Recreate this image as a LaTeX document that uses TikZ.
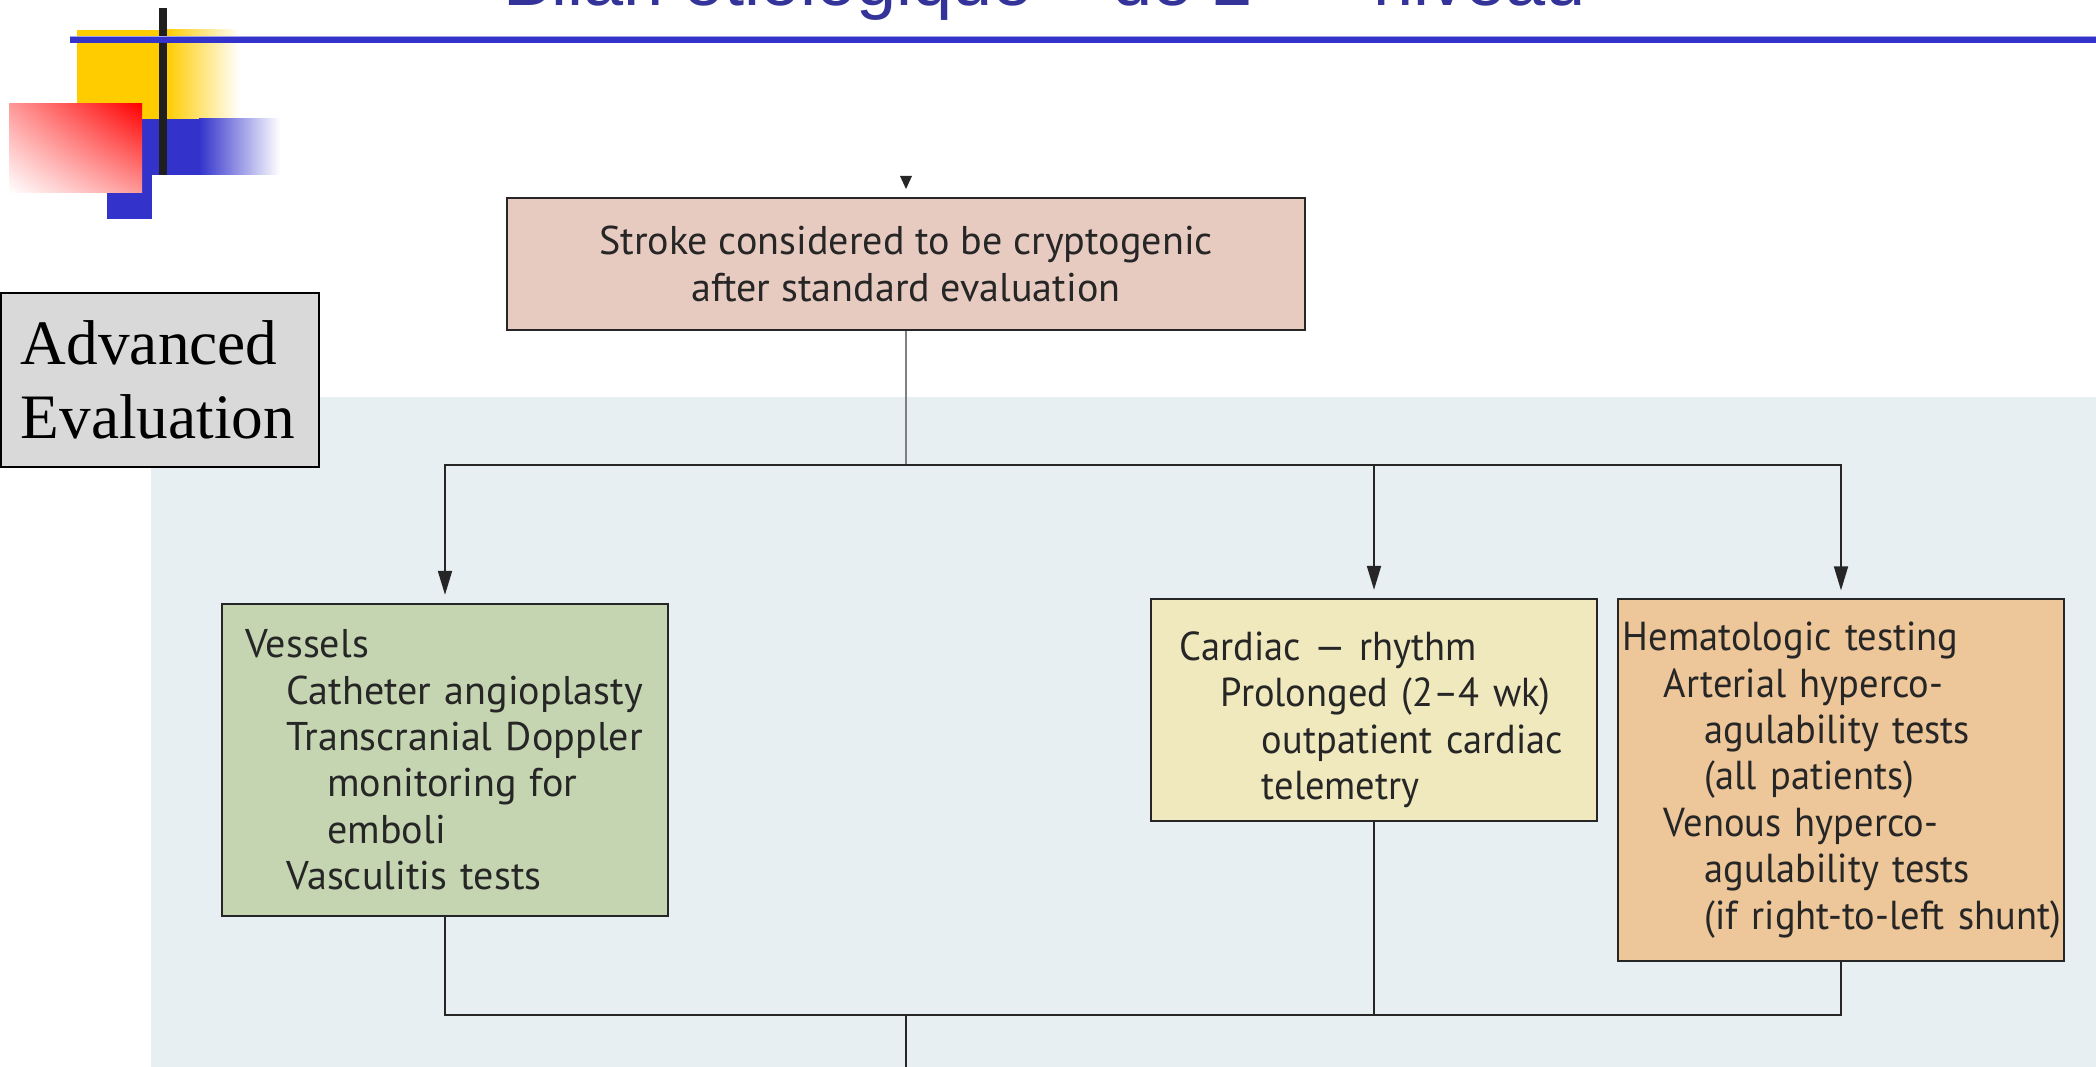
\documentclass[tikz,border=0pt]{standalone}
\usepackage{fontspec}
\setmainfont{Liberation Serif}
\newfontfamily\boxfont{PT Sans}
\newfontfamily\narrowfont[FakeStretch=0.95]{PT Sans}
\newfontfamily\titlefont{Liberation Sans}
\usetikzlibrary{arrows.meta,shadings}

\definecolor{decoyellow}{HTML}{FFCC00}
\definecolor{decoblue}{HTML}{3333CC}
\definecolor{titleblue}{HTML}{333399}
\definecolor{panelblue}{HTML}{E7EFF3}
\definecolor{strokefill}{HTML}{E8CBC0}
\definecolor{vesselfill}{HTML}{C6D5B1}
\definecolor{cardiacfill}{HTML}{F0E9BE}
\definecolor{hematfill}{HTML}{EDC699}
\definecolor{labelgray}{HTML}{D9D9D9}
\definecolor{linedark}{HTML}{262626}

% one line of a list box, indented by level
\newlength{\indstep}
\setlength{\indstep}{0.41cm}
\newcommand{\entry}[2]{\mbox{\hspace*{#1\indstep}#2}}

\tikzset{
  flowbox/.style={draw=linedark, line width=0.6pt, text=linedark, inner ysep=0pt,
    font=\boxfont\fontsize{11.4}{13.2}\selectfont},
  listbox/.style={flowbox, align=left, minimum width=4.45cm},
  narrowbox/.style={listbox, font=\narrowfont\fontsize{11.5}{13.2}\selectfont},
  flowline/.style={draw=linedark, line width=0.55pt},
  flowarrow/.style={flowline, -{Triangle[length=2.4mm,width=1.4mm]}, shorten >=0.8mm}
}

\begin{document}
\begin{tikzpicture}[x=0.01cm, y=-0.01cm]

% page frame, in pixels of the slide
\useasboundingbox (0,0) rectangle (2096,1067);
\clip (0,0) rectangle (2096,1067);

% title, cut off at the top of the slide
\node[anchor=base west, inner sep=0pt, text=titleblue,
  font=\titlefont\fontsize{20.5}{24}\selectfont] (title) at (503,6)
  {Bilan étiologique – de 2\textsuperscript{ème} niveau};

% corner decoration
\fill[decoyellow] (77,30) rectangle (167,119);
\shade[left color=decoyellow, right color=white] (166,30) rectangle (240,119);
\fill[decoblue] (107,119) rectangle (200,175);
\fill[decoblue] (107,175) rectangle (152,219);
\shade[left color=decoblue, right color=white] (199,119) rectangle (280,175);
\shade[upper right=red, lower left=white, upper left=red!40, lower right=red!40]
  (9,104) rectangle (142,193);
\fill[black!88] (159,8) rectangle (167,175);
\fill[decoblue!45] (70,36) rectangle (2096,38);
\fill[decoblue] (70,37.5) rectangle (2096,43);

% light panel behind the flow chart
\fill[panelblue] (151,397) rectangle (2096,1067);

% label box
\node[draw=black, fill=labelgray, line width=0.6pt, minimum width=3.18cm,
  minimum height=1.74cm, text width=2.78cm, inner xsep=0.2cm, align=left,
  font=\fontsize{18}{21}\selectfont] (advanced) at (160,380)
  {Advanced\\Evaluation};

% arrow tip coming from above
\fill[linedark] (900,176) -- (912,176) -- (906,189) -- cycle;

% boxes
\node[flowbox, fill=strokefill, minimum width=7.97cm, minimum height=1.32cm,
  align=center] (stroke) at (906,264)
  {Stroke considered to be cryptogenic\\after standard evaluation};

\node[listbox, fill=vesselfill, minimum height=3.12cm, text width=3.99cm,
  inner xsep=0.23cm] (vessels) at (445,760)
  {\entry{0}{Vessels}\\
   \entry{1}{Catheter angioplasty}\\
   \entry{1}{Transcranial Doppler}\\
   \entry{2}{monitoring for}\\
   \entry{2}{emboli}\\
   \entry{1}{Vasculitis tests}};

\node[narrowbox, fill=cardiacfill, minimum height=2.22cm, text width=3.88cm,
  inner xsep=0.28cm] (cardiac) at (1374,710)
  {\rule{0pt}{4.8mm}\entry{0}{Cardiac — rhythm}\\
   \entry{1}{Prolonged (2–4 wk)}\\
   \entry{2}{outpatient cardiac}\\
   \entry{2}{telemetry}};

\node[narrowbox, fill=hematfill, minimum height=3.61cm, text width=4.36cm,
  inner xsep=0.04cm] (hemat) at (1841,780)
  {\entry{0}{Hematologic testing}\\
   \entry{1}{Arterial hyperco-}\\
   \entry{2}{agulability tests}\\
   \entry{2}{(all patients)}\\
   \entry{1}{Venous hyperco-}\\
   \entry{2}{agulability tests}\\
   \entry{2}{(if right-to-left shunt)}};

% connectors
\coordinate (split) at (906,465);
\coordinate (join) at (906,1015);
\coordinate (exit) at (906,1067);

\draw[flowline, draw=gray, line width=0.8pt] (stroke.south) -- (split);
\draw[flowarrow] (split) -| (vessels.north);
\draw[flowarrow] (split) -| (cardiac.north);
\draw[flowarrow] (split) -| (hemat.north);

\draw[flowline] (vessels.south) |- (join);
\draw[flowline] (cardiac.south) |- (join);
\draw[flowline] (hemat.south) |- (join);
\draw[flowline] (join) -- (exit);

\end{tikzpicture}
\end{document}
